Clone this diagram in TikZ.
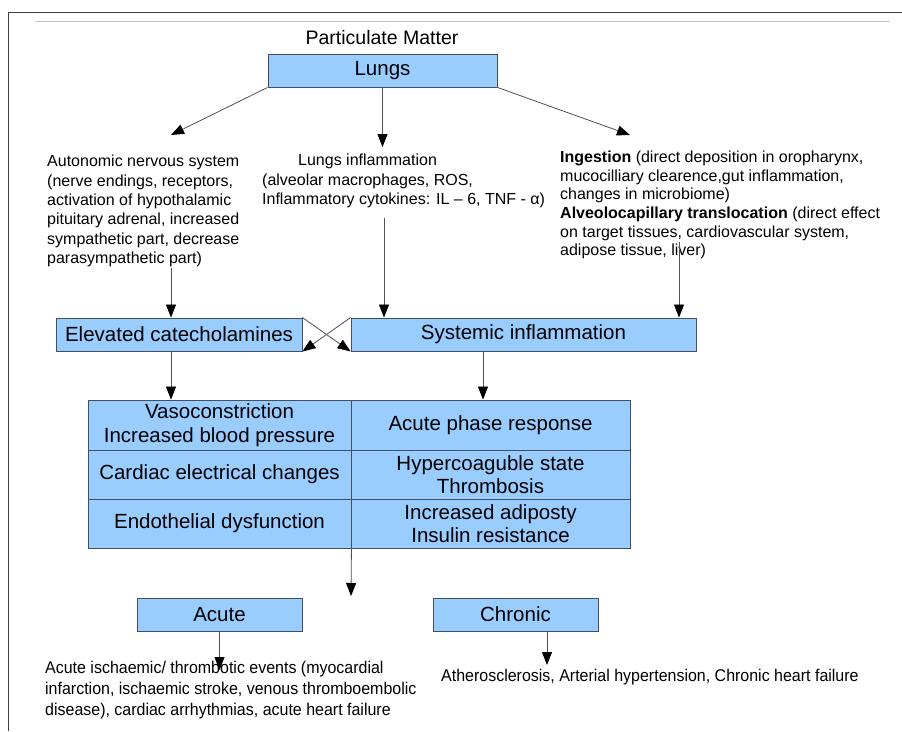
\documentclass[tikz,border=0pt]{standalone}
\usepackage{fontspec}
\setmainfont{Liberation Sans}
\newfontfamily\narrowsans[FakeStretch=0.94]{Liberation Sans}
\usetikzlibrary{arrows.meta}
\definecolor{boxfill}{HTML}{99CCFF}
\definecolor{boxline}{HTML}{44505E}
\definecolor{arrline}{HTML}{505050}
\tikzset{
  bx/.style={draw=boxline, fill=boxfill, line width=0.9pt, inner sep=0pt,
    font=\fontsize{20.5}{23.5}\selectfont, align=center},
  txt/.style={inner sep=0pt, font=\fontsize{16}{19.4}\selectfont, align=left},
  btxt/.style={inner sep=0pt, font=\narrowsans\fontsize{17}{21}\selectfont, align=left},
  arr/.style={draw=arrline, line width=0.8pt, -{Triangle[length=13pt,width=10pt,color=black]}},
}
\begin{document}
\begin{tikzpicture}[x=1pt,y=-1pt]
\useasboundingbox (0,0) rectangle (902,731);
\fill[white] (0,0) rectangle (902,731);
% frame
\draw[color=black!75, line width=1pt] (902,12) -- (8,12) -- (8,731);
\draw[color=black!22, line width=1pt] (35,21) -- (890,21);

% title and lungs
\node[inner sep=0pt, font=\fontsize{19.5}{22}\selectfont] (pm) at (382,38) {Particulate Matter};
\node[bx, minimum width=229pt, minimum height=33pt] (lungs) at (382.5,70.5) {Lungs};

% second level texts
\node[txt, anchor=north west] (ans) at (47,155)
  {Autonomic nervous system\\(nerve endings, receptors,\\activation of hypothalamic\\pituitary adrenal, increased\\sympathetic part, decrease\\parasympathetic part)};
\node[txt, anchor=north west] (linf) at (262,154)
  {\hspace*{36pt}Lungs inflammation\\(alveolar macrophages, ROS,\\Inflammatory cytokines: IL – 6, TNF - α)};
\node[txt, anchor=north west, font=\fontsize{16}{18.6}\selectfont] (ing) at (560,151)
  {\textbf{Ingestion} (direct deposition in oropharynx,\\mucocilliary clearence,gut inflammation,\\changes in microbiome)\\\textbf{Alveolocapillary translocation} (direct effect\\on target tissues, cardiovascular system,\\adipose tissue, liver)};

% arrow tips from lungs
\coordinate (tipL) at (171,135);
\coordinate (tipM) at (382.5,147);
\coordinate (tipR) at (630,135);
\draw[arr] (lungs.south west) -- (tipL);
\draw[arr] (lungs.south) -- (tipM);
\draw[arr] (lungs.south east) -- (tipR);

% third level boxes
\node[bx, minimum width=246pt, minimum height=33pt] (elev) at (179,334.5) {Elevated catecholamines};
\node[bx, minimum width=345pt, minimum height=33pt] (sys) at (523.5,334.5) {Systemic inflammation};

\coordinate (ansfoot) at (171,268);
\coordinate (linffoot) at (384,218);
\coordinate (ingfoot) at (679,242);
\draw[arr] (ansfoot) -- (ansfoot |- elev.north);
\draw[arr] (linffoot) -- (linffoot |- sys.north);
\draw[arr] (ingfoot) -- (ingfoot |- sys.north);

\draw[arr] (elev.north east) -- (sys.south west);
\draw[arr] (sys.north west) -- (elev.south east);

% table
\node[bx, minimum width=263pt, minimum height=50pt] (c11) at (219.5,425) {Vasoconstriction\\Increased blood pressure};
\node[bx, minimum width=279pt, minimum height=50pt] (c12) at (490.5,425) {Acute phase response};
\node[bx, minimum width=263pt, minimum height=49pt] (c21) at (219.5,474.5) {Cardiac electrical changes};
\node[bx, minimum width=279pt, minimum height=49pt] (c22) at (490.5,474.5) {Hypercoaguble state\\Thrombosis};
\node[bx, minimum width=263pt, minimum height=49pt] (c31) at (219.5,523.5) {Endothelial dysfunction};
\node[bx, minimum width=279pt, minimum height=49pt] (c32) at (490.5,523.5) {Increased adiposty\\Insulin resistance};

\coordinate (elevdown) at (171,351);
\coordinate (sysdown) at (483,351);
\draw[arr] (elevdown) -- (elevdown |- c11.north);
\draw[arr] (sysdown) -- (sysdown |- c12.north);

\coordinate (tabtip) at (351,596);
\draw[arr] (c31.south east) -- (tabtip);

% bottom boxes
\node[bx, minimum width=165pt, minimum height=33pt] (acute) at (219.5,614.5) {Acute};
\node[bx, minimum width=165pt, minimum height=33pt] (chronic) at (515.5,614.5) {Chronic};

\node[btxt, anchor=north west] (acutetxt) at (45,661)
  {Acute ischaemic/ thrombotic events (myocardial\\infarction, ischaemic stroke, venous thromboembolic\\disease), cardiac arrhythmias, acute heart failure};
\node[btxt, anchor=west] (chrtxt) at (441,677)
  {Atherosclerosis, Arterial hypertension, Chronic heart failure};

\coordinate (acutetip) at (219.5,670);
\coordinate (chrtip) at (547,665);
\draw[arr] (acute.south) -- (acutetip);
\draw[arr] (chrtip |- chronic.south) -- (chrtip);
\end{tikzpicture}
\end{document}
